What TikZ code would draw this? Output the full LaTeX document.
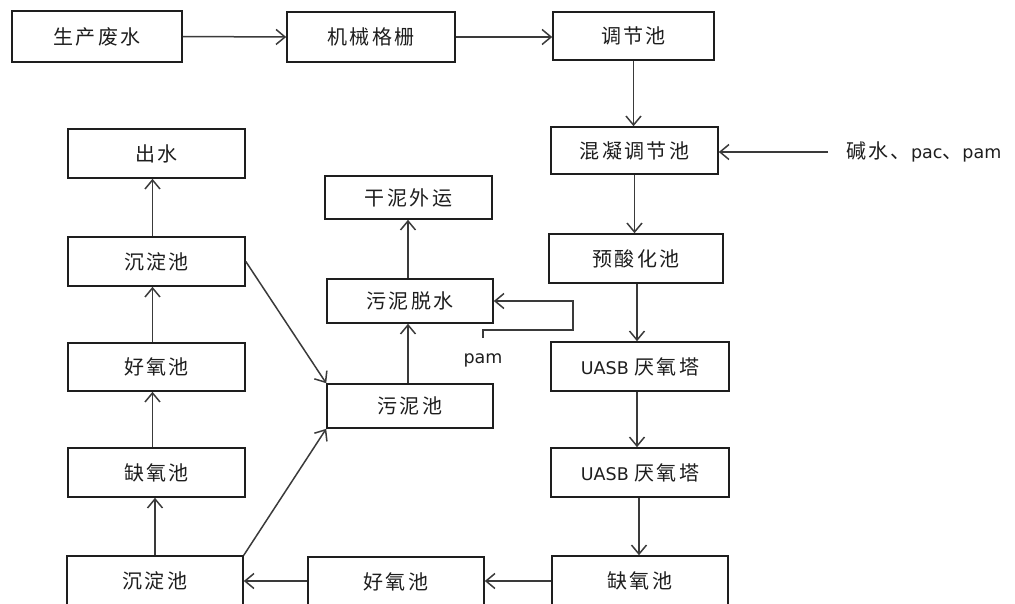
\documentclass[tikz,border=0pt]{standalone}
\usepackage{fontspec}
\setmainfont{DejaVu Sans}
\newfontfamily\cjk[LetterSpace=12]{Noto Sans CJK SC}
\newfontfamily\lat{DejaVu Sans}
\usetikzlibrary{arrows.meta}
\definecolor{linec}{HTML}{3A3A3A}
\definecolor{textc}{HTML}{1E1E1E}
\begin{document}
\begin{tikzpicture}[x=1pt,y=-1pt,
  box/.style={draw=textc,line width=1.6pt,fill=white,inner sep=0pt,text=textc,
    font=\cjk\fontsize{20}{22}\selectfont},
  arr/.style={draw=linec,line width=1.5pt,-{Straight Barb[length=9pt,width=15pt,line width=1.5pt]}},
  lbl/.style={inner sep=0pt,text=textc,font=\lat\fontsize{17.5}{19}\selectfont}]
\useasboundingbox (0,0) rectangle (1015,603);
\clip (0,0) rectangle (1015,603);
% top row
\node[box,minimum width=170pt,minimum height=51pt] (waste) at (97,36.5) {生产废水};
\node[box,minimum width=168pt,minimum height=50pt] (screen) at (371,37) {机械格栅};
\node[box,minimum width=161pt,minimum height=48pt] (reg) at (633.5,36) {调节池};
% right column
\node[box,minimum width=167pt,minimum height=47pt] (coag) at (634.5,150.5) {混凝调节池};
\node[box,minimum width=174pt,minimum height=49pt] (preacid) at (636,258.5) {预酸化池};
\node[box,minimum width=178pt,minimum height=49pt] (uasbA) at (640,366.5) {{\lat\fontsize{17.5}{19}\selectfont UASB }厌氧塔};
\node[box,minimum width=178pt,minimum height=49pt] (uasbB) at (640,472.5) {{\lat\fontsize{17.5}{19}\selectfont UASB }厌氧塔};
\node[box,minimum width=176pt,minimum height=50pt] (anoxB) at (640,581) {缺氧池};
% bottom row
\node[box,minimum width=176pt,minimum height=50pt] (oxicB) at (396,582) {好氧池};
\node[box,minimum width=176pt,minimum height=50pt] (sedB) at (155,581) {沉淀池};
% left column
\node[box,minimum width=177pt,minimum height=49pt] (anoxA) at (156.5,472.5) {缺氧池};
\node[box,minimum width=177pt,minimum height=48pt] (oxicA) at (156.5,367) {好氧池};
\node[box,minimum width=177pt,minimum height=49pt] (sedA) at (156.5,261.5) {沉淀池};
\node[box,minimum width=177pt,minimum height=49pt] (out) at (156.5,153.5) {出水};
% middle column
\node[box,minimum width=167pt,minimum height=43pt] (dry) at (408.5,197.5) {干泥外运};
\node[box,minimum width=166pt,minimum height=44pt] (dewater) at (410,301) {污泥脱水};
\node[box,minimum width=166pt,minimum height=44pt] (sludge) at (410,406) {污泥池};
% chemicals
\node[lbl,anchor=west] (chem) at (846,152) {{\cjk\fontsize{20}{22}\selectfont 碱水、}pac{\cjk\fontsize{20}{22}\selectfont 、}pam};
\node[lbl] (pam) at (483,360) {pam};
\coordinate (pamA) at (483,338);
\coordinate (pamB) at (573,330);
% connectors
\draw[arr] (waste.east) -- (screen.west);
\draw[arr] (screen.east) -- (reg.west |- screen.east);
\draw[arr] (reg.south) -- (reg.south |- coag.north);
\draw[arr] ([xshift=-18pt]chem.west) -- (coag.east |- chem.west);
\draw[arr] (coag.south) -- (coag.south |- preacid.north);
\draw[arr] ([xshift=1pt]preacid.south) -- ([xshift=1pt]preacid.south |- uasbA.north);
\draw[arr] ([xshift=-3pt]uasbA.south) -- ([xshift=-3pt]uasbA.south |- uasbB.north);
\draw[arr] ([xshift=-1pt]uasbB.south) -- ([xshift=-1pt]uasbB.south |- anoxB.north);
\draw[arr] (anoxB.west) -- (oxicB.east |- anoxB.west);
\draw[arr] ([yshift=1pt]oxicB.west) -- ([yshift=1pt]sedB.east |- oxicB.west);
\draw[arr] (sedB.north) -- (sedB.north |- anoxA.south);
\draw[arr] ([xshift=-4pt]anoxA.north) -- ([xshift=-4pt]anoxA.north |- oxicA.south);
\draw[arr] ([xshift=-4pt]oxicA.north) -- ([xshift=-4pt]oxicA.north |- sedA.south);
\draw[arr] ([xshift=-4pt]sedA.north) -- ([xshift=-4pt]sedA.north |- out.south);
\draw[arr] (sedA.east) -- (sludge.north west);
\draw[arr] (sedB.north east) -- (sludge.south west);
\draw[arr] ([xshift=-2pt]sludge.north) -- ([xshift=-2pt]sludge.north |- dewater.south);
\draw[arr] ([xshift=-2pt]dewater.north) -- ([xshift=-2pt]dewater.north |- dry.south);
\draw[arr] (pamA) |- (pamB) |- (dewater.east);
\end{tikzpicture}
\end{document}
